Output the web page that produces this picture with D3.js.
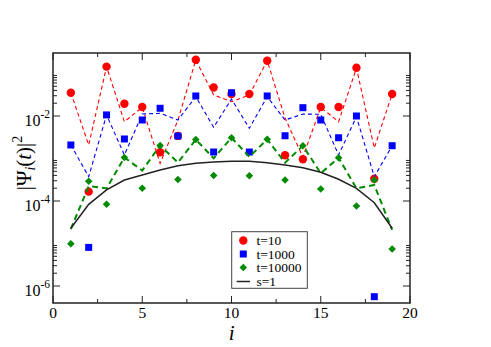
<!DOCTYPE html>
<html>
<head>
<meta charset="utf-8">
<script src="https://cdn.jsdelivr.net/npm/d3@7"></script>
<style>
  html, body { margin: 0; padding: 0; background: #fff; }
  svg { display: block; }
  text { font-family: "Liberation Serif", "DejaVu Serif", serif; fill: #000; }
</style>
</head>
<body>
<svg id="chart" width="491" height="347"></svg>
<script>
// ---- data ----
const sites = [1,2,3,4,5,6,7,8,9,10,11,12,13,14,15,16,17,18,19];

// markers
const t10Points    = [0.0353,1.66e-4,0.145,0.0194,0.0163,1.4e-3,3.4e-3,0.211,0.047,0.033,0.033,0.20,1.19e-3,9.6e-4,0.0163,0.0163,0.137,3.35e-4,0.033];
const t1000Points  = [2.08e-3,8.1e-6,0.0106,2.88e-3,8.05e-3,0.0152,3.38e-3,0.0296,1.42e-3,0.0353,1.42e-3,0.0296,3.43e-3,0.0157,8.05e-3,3.08e-3,0.0100,5.6e-7,2.0e-3];
const t10000Points = [9.9e-6,2.92e-4,8.36e-5,1.06e-3,1.99e-4,2.02e-3,3.21e-4,2.80e-3,3.98e-4,3.08e-3,3.94e-4,2.83e-3,3.12e-4,2.0e-3,1.91e-4,1.04e-3,7.62e-5,3.12e-4,7.43e-6];

// dashed curves
const t10Line    = [0.0353,2.08e-3,0.1445,7.34e-3,0.0160,7.7e-4,8.05e-3,0.208,0.0312,0.0217,0.0312,0.200,8.97e-3,1.08e-3,0.0160,7.34e-3,0.1345,1.77e-3,0.033];
const t1000Line  = [2.08e-3,3.73e-4,0.0106,1.21e-3,0.0111,0.0116,8.05e-3,0.0284,5.42e-3,0.0251,5.14e-3,0.0284,8.05e-3,0.0111,0.0110,1.21e-3,9.63e-3,3.73e-4,2.0e-3];
const t10000Line = [2.19e-5,2.25e-4,1.97e-4,1.06e-3,5.22e-4,2.02e-3,8.05e-4,2.80e-3,1.01e-3,3.08e-3,1.10e-3,2.83e-3,7.96e-4,2.0e-3,4.49e-4,1.04e-3,1.99e-4,2.38e-4,2.08e-5];

// solid s=1 curve
const s1Line = [2.28e-5,8.36e-5,1.82e-4,3.12e-4,4.09e-4,5.36e-4,6.77e-4,7.7e-4,8.28e-4,8.59e-4,8.59e-4,7.96e-4,7.03e-4,6.08e-4,4.73e-4,3.24e-4,1.99e-4,9.12e-5,2.28e-5];

// ticks
const xMajorTicks = [0,5,10,15,20];
const xMinorTicks = [2.5,7.5,12.5,17.5];
const yMajorExps = [-6,-4,-2];
const legendLabels = ["t=10","t=1000","t=10000","s=1"];

// ---- layout ----
const svg = d3.select("#chart");
const L = 53, R = 410, T = 53, B = 303;
const x = d3.scaleLinear().domain([0,20]).range([L,R]);
const y = d3.scaleLog().domain([Math.pow(10,-6.4), Math.pow(10,-0.5176)]).range([B,T]);

const yMajor = yMajorExps.map(e => Math.pow(10,e));
const yMinor = [];
yMajorExps.forEach(e => { for (let k=2;k<=9;k++) yMinor.push(k*Math.pow(10,e)); });

const axisColor = "#222";

svg.append("defs").append("clipPath").attr("id","clip")
  .append("rect").attr("x",L).attr("y",T).attr("width",R-L).attr("height",B-T);

const plot = svg.append("g").attr("clip-path","url(#clip)");

const line = d3.line().x((d,i)=>x(sites[i])).y(d=>y(d));

const red = "#ff0000", blue = "#0000ff", green = "#008b00";

// red markers + line
plot.append("g").selectAll("circle").data(t10Points).join("circle")
  .attr("cx",(d,i)=>x(sites[i])).attr("cy",d=>y(d)).attr("r",4.2).attr("fill",red);
plot.append("path").datum(t10Line).attr("d",line).attr("fill","none")
  .attr("stroke",red).attr("stroke-width",1.1).attr("stroke-dasharray","4,3");

// blue markers + line
plot.append("g").selectAll("rect").data(t1000Points).join("rect")
  .attr("x",(d,i)=>x(sites[i])-3.5).attr("y",d=>y(d)-3.5).attr("width",7).attr("height",7).attr("fill",blue);
plot.append("path").datum(t1000Line).attr("d",line).attr("fill","none")
  .attr("stroke",blue).attr("stroke-width",1.1).attr("stroke-dasharray","4,3");

// green markers + line
const diamond = (cx,cy,r) => `M${cx},${cy-r}L${cx+r},${cy}L${cx},${cy+r}L${cx-r},${cy}Z`;
plot.append("g").selectAll("path").data(t10000Points).join("path")
  .attr("d",(d,i)=>diamond(x(sites[i]),y(d),3.8)).attr("fill",green);
plot.append("path").datum(t10000Line).attr("d",line).attr("fill","none")
  .attr("stroke",green).attr("stroke-width",2).attr("stroke-dasharray","6,4");

// black solid line
plot.append("path").datum(s1Line).attr("d",line).attr("fill","none")
  .attr("stroke","#222").attr("stroke-width",1.5);

// ---- axes (ticks inward, mirrored) ----
const axG = svg.append("g");
const majLen = 7, minLen = 4;
xMajorTicks.forEach(v => {
  axG.append("line").attr("x1",x(v)).attr("x2",x(v)).attr("y1",B).attr("y2",B-majLen).attr("stroke",axisColor);
  axG.append("line").attr("x1",x(v)).attr("x2",x(v)).attr("y1",T).attr("y2",T+majLen).attr("stroke",axisColor);
  axG.append("text").attr("x",x(v)).attr("y",317.5).attr("text-anchor","middle")
    .attr("font-size",15.5).text(v);
});
xMinorTicks.forEach(v => {
  axG.append("line").attr("x1",x(v)).attr("x2",x(v)).attr("y1",B).attr("y2",B-minLen).attr("stroke",axisColor);
  axG.append("line").attr("x1",x(v)).attr("x2",x(v)).attr("y1",T).attr("y2",T+minLen).attr("stroke",axisColor);
});
yMajor.forEach((v,idx) => {
  const yy = y(v);
  axG.append("line").attr("x1",L).attr("x2",L+majLen).attr("y1",yy).attr("y2",yy).attr("stroke",axisColor);
  axG.append("line").attr("x1",R).attr("x2",R-majLen).attr("y1",yy).attr("y2",yy).attr("stroke",axisColor);
  const t = axG.append("text").attr("x",50).attr("y",yy+9.5).attr("text-anchor","end").attr("font-size",16);
  t.append("tspan").text("10");
  t.append("tspan").attr("dy",-7.5).attr("font-size",11.5).text(String(yMajorExps[idx]));
});
yMinor.forEach(v => {
  const yy = y(v);
  if (yy < T || yy > B) return;
  axG.append("line").attr("x1",L).attr("x2",L+minLen).attr("y1",yy).attr("y2",yy).attr("stroke",axisColor);
  axG.append("line").attr("x1",R).attr("x2",R-minLen).attr("y1",yy).attr("y2",yy).attr("stroke",axisColor);
});
axG.append("rect").attr("x",L).attr("y",T).attr("width",R-L).attr("height",B-T)
  .attr("fill","none").attr("stroke",axisColor).attr("stroke-width",1.5);

// axis titles
svg.append("text").attr("x",231.7).attr("y",339.5).attr("text-anchor","middle")
  .attr("font-size",21).attr("font-style","italic").text("i");

const yl = svg.append("text").attr("transform","translate(31,163) rotate(-90)")
  .attr("text-anchor","middle").attr("font-size",21);
yl.append("tspan").text("|Ψ");
yl.append("tspan").attr("font-size",14).attr("font-style","italic").attr("dy",4).text("i");
yl.append("tspan").attr("dy",-4).text("(");
yl.append("tspan").attr("font-style","italic").text("t");
yl.append("tspan").text(")|");
yl.append("tspan").attr("font-size",14).attr("dy",-9).text("2");

// ---- legend ----
const lg = svg.append("g");
lg.append("rect").attr("x",231.7).attr("y",231.7).attr("width",75.6).attr("height",56.6)
  .attr("fill","#fff").attr("stroke","#444").attr("stroke-width",1);
const rowsY = [240.5,254,267.5,281.5];
const sx = 243.3, tx = 256.5;
lg.append("circle").attr("cx",sx).attr("cy",rowsY[0]).attr("r",4.2).attr("fill",red);
lg.append("rect").attr("x",sx-3.5).attr("y",rowsY[1]-3.5).attr("width",7).attr("height",7).attr("fill",blue);
lg.append("path").attr("d",diamond(sx,rowsY[2],3.8)).attr("fill",green);
lg.append("line").attr("x1",236.7).attr("x2",250).attr("y1",rowsY[3]).attr("y2",rowsY[3])
  .attr("stroke","#222").attr("stroke-width",1.5);
legendLabels.forEach((s,i) => {
  lg.append("text").attr("x",tx).attr("y",rowsY[i]+4.5).attr("font-size",13.5).text(s);
});
</script>
</body>
</html>
